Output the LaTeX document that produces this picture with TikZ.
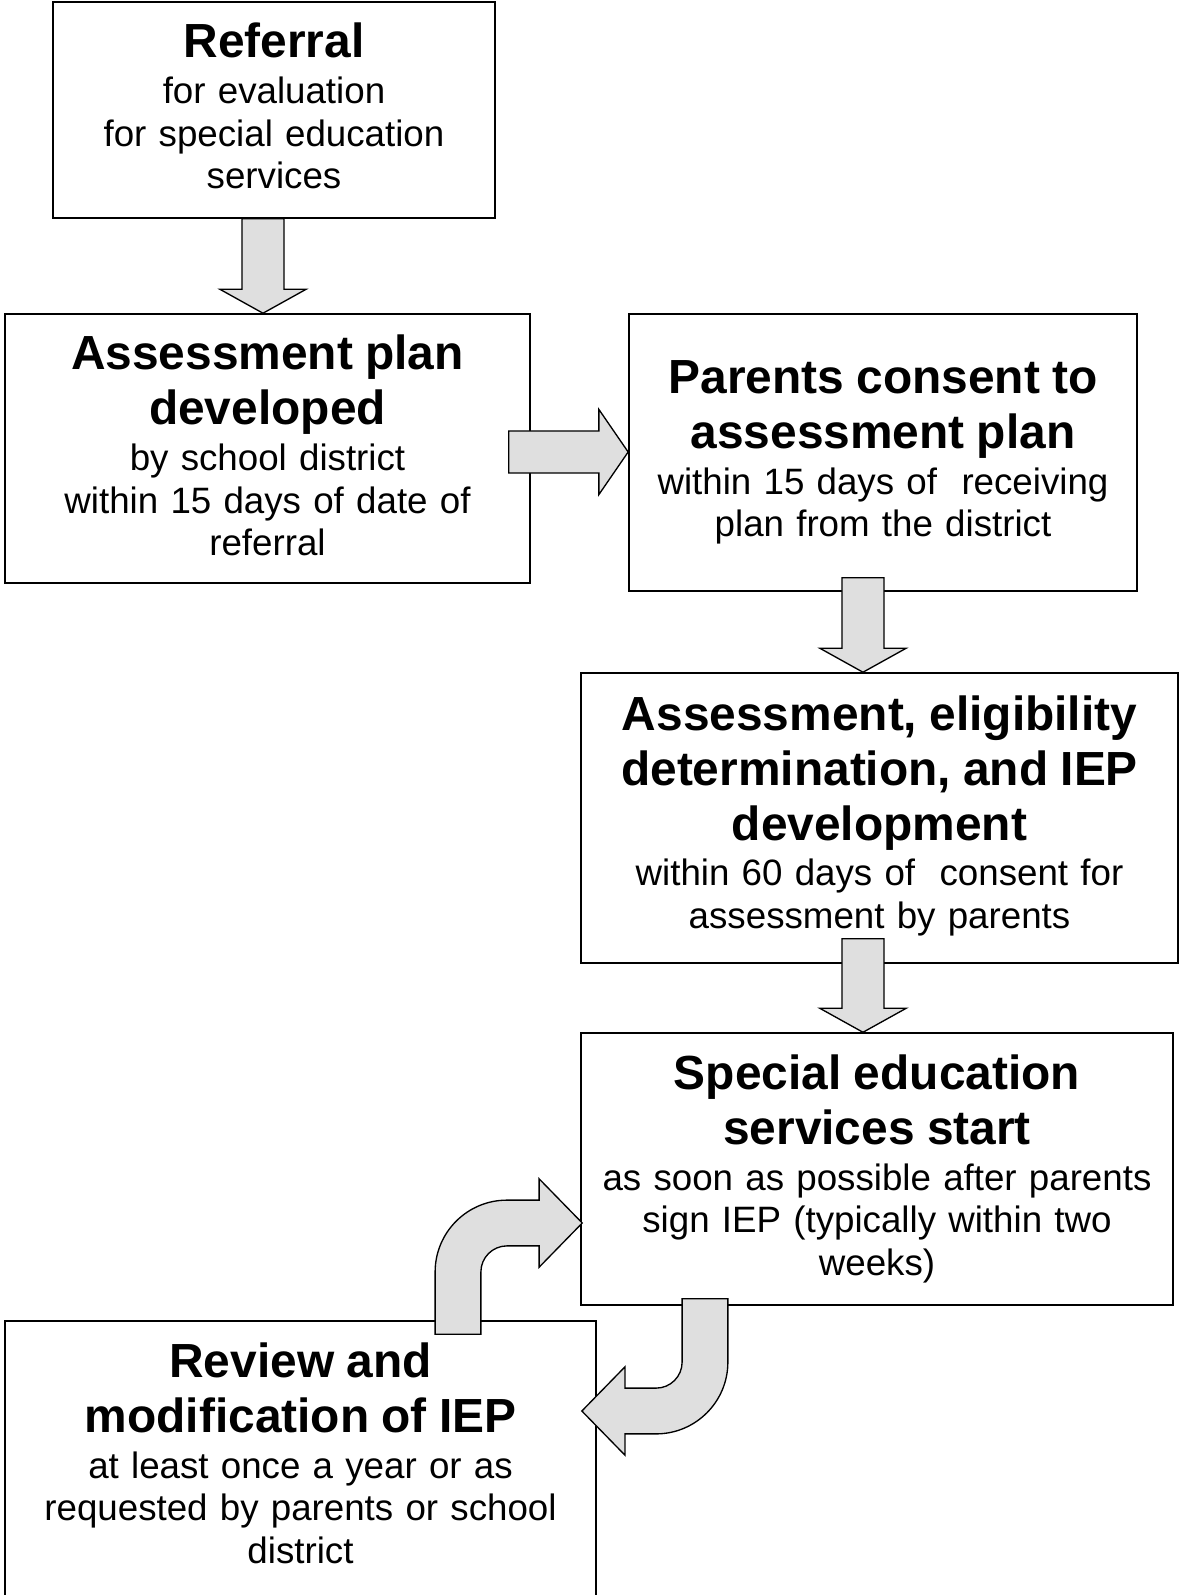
\documentclass[tikz,border=0pt]{standalone}
\usepackage{fontspec}
\setsansfont{Liberation Sans}
\usetikzlibrary{calc}
\newcommand{\hdfont}{\fontsize{18}{20.7}\selectfont\bfseries}
\newcommand{\txfont}{\fontsize{13.8}{16.1}\selectfont\mdseries}

\begin{document}
\begin{tikzpicture}
	[font=\sffamily\txfont, x=0.3759pt, y=0.3759pt,
	stage/.style		= {rectangle, draw, line width=0.6pt, align=center, inner sep=4pt},
	flow/.style		= {draw, line width=0.5pt, fill=gray!25, line join=miter},
	downblock/.style	= {flow, to path={let \p1=(\tikztostart), \p2=(\tikztotarget) in
		(\x1-7.9pt,\y1) -- (\x1-7.9pt,\y2+9pt) -- (\x1-16.2pt,\y2+9pt) -- (\x1,\y2)
		-- (\x1+16.2pt,\y2+9pt) -- (\x1+7.9pt,\y2+9pt) -- (\x1+7.9pt,\y1) -- cycle}},
	rightblock/.style	= {flow, to path={let \p1=(\tikztostart), \p2=(\tikztotarget) in
		(\x1,\y1+7.9pt) -- (\x2-11pt,\y1+7.9pt) -- (\x2-11pt,\y1+16pt) -- (\x2,\y1)
		-- (\x2-11pt,\y1-16pt) -- (\x2-11pt,\y1-7.9pt) -- (\x1,\y1-7.9pt) -- cycle}},
	bentup/.style		= {flow, to path={let \p1=(\tikztostart), \p2=(\tikztotarget) in
		(\x1-8.6pt,\y1) -- (\x1-8.6pt,\y2+8.6pt-27pt) arc[start angle=180, end angle=90, radius=27pt]
		-- (\x2-16.2pt,\y2+8.6pt) -- (\x2-16.2pt,\y2+16.6pt) -- (\x2,\y2)
		-- (\x2-16.2pt,\y2-16.6pt) -- (\x2-16.2pt,\y2-8.6pt)
		-- (\x1-8.6pt+27pt,\y2-8.6pt) arc[start angle=90, end angle=180, radius=9.8pt]
		-- (\x1+8.6pt,\y1) -- cycle}},
	bentdown/.style		= {flow, to path={let \p1=(\tikztostart), \p2=(\tikztotarget) in
		(\x1+8.6pt,\y1) -- (\x1+8.6pt,\y2-8.6pt+27pt) arc[start angle=0, end angle=-90, radius=27pt]
		-- (\x2+16.2pt,\y2-8.6pt) -- (\x2+16.2pt,\y2-16.6pt) -- (\x2,\y2)
		-- (\x2+16.2pt,\y2+16.6pt) -- (\x2+16.2pt,\y2+8.6pt)
		-- (\x1+8.6pt-27pt,\y2+8.6pt) arc[start angle=-90, end angle=0, radius=9.8pt]
		-- (\x1-8.6pt,\y1) -- cycle}}]
	
	\useasboundingbox (0,0) rectangle (1179,-1595);
	
	\node at (274, -110)		[stage, minimum width=166.2pt, minimum height=81.2pt, text width=158.2pt]	(ref)
		{\hdfont Referral\\[1pt] \txfont for evaluation\\ for special education\\ services\rule[-3pt]{0pt}{0pt}};
	\node at (267.5, -448.5)	[stage, minimum width=197.3pt, minimum height=101.1pt, text width=189.3pt]	(plan)
		{\hdfont Assessment plan\\ developed\\[1pt] \txfont by school district\\ within 15 days of date of\\ referral\rule[-2.3pt]{0pt}{0pt}};
	\node at (883, -452.5)		[stage, minimum width=191pt, minimum height=104.1pt, text width=183pt]		(consent)
		{\hdfont Parents consent to\\ assessment plan\\[1pt] \txfont within 15 days of~ receiving\\ plan from the district};
	\node at (879.5, -818)		[stage, minimum width=224.4pt, minimum height=109pt, text width=216.4pt]	(assess)
		{\hdfont Assessment, eligibility\\ determination, and IEP\\ development\\[1pt] \txfont within 60 days of~ consent for\\ assessment by parents\rule[-4.4pt]{0pt}{0pt}};
	\node at (877, -1169)		[stage, minimum width=222.5pt, minimum height=102.2pt, text width=214.5pt]	(start)
		{\hdfont Special education\\ services start\\[1pt] \txfont as soon as possible after parents\\ sign IEP (typically within two\\ weeks)};
	\node at (300.5, -1460)		[stage, minimum width=222.2pt, minimum height=104.5pt, text width=214.2pt]	(review)
		{\hdfont Review and\\ modification of IEP\\[1pt] \txfont at least once a year or as\\ requested by parents or school\\ district\rule[-5pt]{0pt}{0pt}};
	
	\coordinate (a1) at ($(ref.south)+(-11,0)$);
	\coordinate (a2) at ($(plan.east)+(-22,-3.5)$);
	\coordinate (a3) at ($(consent.south)+(-20,14)$);
	\coordinate (a4) at ($(assess.south)+(-16.5,25)$);
	\coordinate (a5) at ($(start.south)+(-172,7)$);
	\coordinate (a5t) at ($(review.east)+(-15,49)$);
	\coordinate (a6) at ($(review.north)+(157.5,-14)$);
	\coordinate (a6t) at ($(start.west)+(2,-54)$);
	
	\draw [downblock] (a1) to (a1 |- plan.north);
	\draw [rightblock] (a2) to (a2 -| consent.west);
	\draw [downblock] (a3) to (a3 |- assess.north);
	\draw [downblock] (a4) to (a4 |- start.north);
	\draw [bentdown] (a5) to (a5t);
	\draw [bentup] (a6) to (a6t);
\end{tikzpicture}
\end{document}
